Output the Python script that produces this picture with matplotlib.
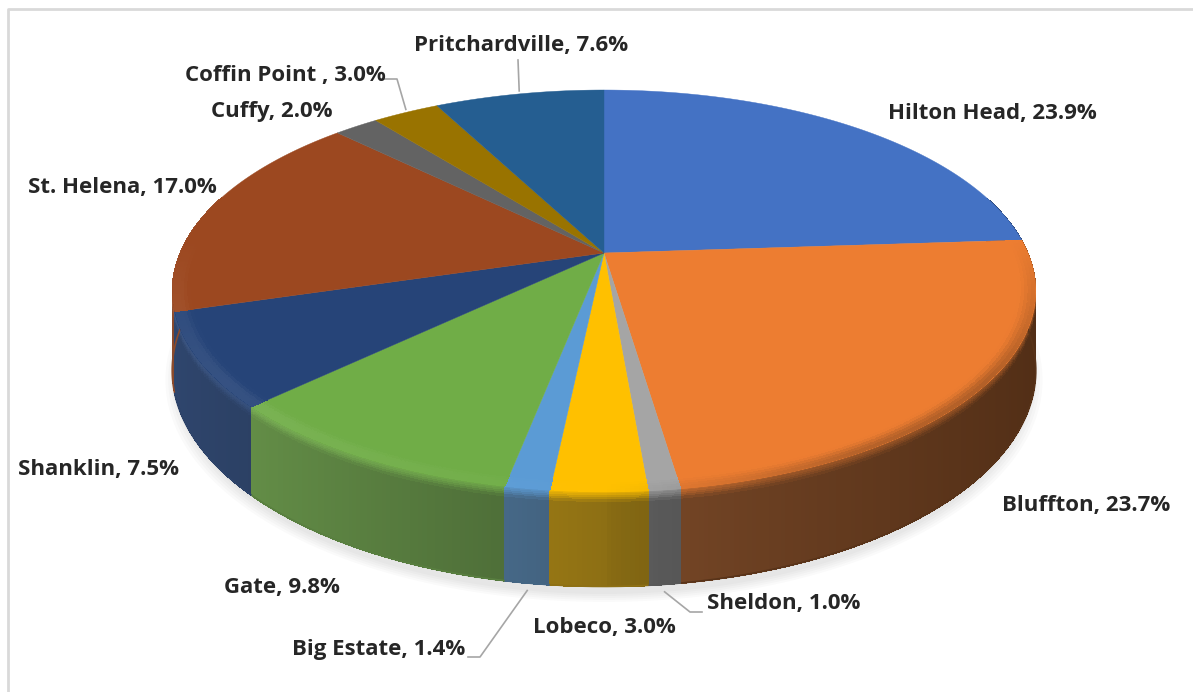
import numpy as np
import matplotlib
matplotlib.use("Agg")
import matplotlib.pyplot as plt
from matplotlib.collections import PolyCollection
from matplotlib.patches import Polygon
from matplotlib.colors import to_rgb

# share of each area (percent), clockwise from 12 o'clock
areas = ["Hilton Head", "Bluffton", "Sheldon", "Lobeco", "Big Estate", "Gate",
         "Shanklin", "St. Helena", "Cuffy", "Coffin Point ", "Pritchardville"]
shares = [23.9, 23.7, 1.0, 3.0, 1.4, 9.8, 7.5, 17.0, 2.0, 3.0, 7.6]
colors = ["#4472C4", "#ED7D31", "#A5A5A5", "#FFC000", "#5B9BD5", "#70AD47",
          "#264478", "#9C4820", "#636363", "#997300", "#255E91"]

# label centres (pixels) and, for the leader-line labels, the knee point
label_xy = {
    "Hilton Head": (992, 113), "Bluffton": (1086, 505), "Sheldon": (784, 604),
    "Lobeco": (604, 628), "Big Estate": (379, 650), "Gate": (282, 588),
    "Shanklin": (98, 470), "St. Helena": (122, 188), "Cuffy": (272, 112),
    "Coffin Point ": (285, 75), "Pritchardville": (521, 45),
}
leaders = {
    "Pritchardville": [(518, 60)],
    "Coffin Point ": [(385, 79), (397, 79)],
    "Big Estate": [(468, 657), (480, 657)],
    "Sheldon": [(702, 612), (690, 612)],
}

W, H = 1193, 692
fig = plt.figure(figsize=(W / 100, H / 100), dpi=100)
ax = fig.add_axes([0, 0, 1, 1])
ax.set_xlim(0, W)
ax.set_ylim(H, 0)
ax.axis("off")

# perspective view of a flat disc
cx, cy = 604, 253
rx, ry, k = 424, 193.8, 0.189
depth = 95


def proj(t, r=1.0):
    u, v = r * np.cos(t), r * np.sin(t)
    w = 1 + k * v
    return cx + rx * u / w, cy - ry * v / w


def drop(t, r=1.0):
    return depth * (1 - k) / (1 + k * r * np.sin(t))


def side_color(base, t):
    c = np.cos(t)
    grey = base.mean()
    muted = 0.88 * base + 0.12 * grey
    if c < 0:
        f = 0.54 - 0.34 * c
    else:
        f = 0.54 - 0.18 * np.sqrt(c)
    return np.clip(muted * f + 0.04 * (1 - max(c, 0)), 0, 1)


def smooth(x):
    x = np.clip(x, 0, 1)
    return x * x * (3 - 2 * x)


edges = np.concatenate([[0], np.cumsum(shares)]) / sum(shares) * 360
t_edges = np.radians(90 - edges)

# soft shadow under the cake
for s in np.linspace(1.0, 1.025, 5):
    ts = np.linspace(0, 2 * np.pi, 300)
    xs, ys = proj(ts, s)
    xs = cx + (xs - cx) * 0.99
    ys = ys + drop(ts, s) + 7
    ax.add_patch(Polygon(np.column_stack([xs, ys]), closed=True,
                         facecolor="#808080", edgecolor="none", alpha=0.04, zorder=0))

# side wall in thin strips, with a bevel band under the top edge
rows = np.array([0, 0.02, 0.04, 0.06, 0.08, 0.11, 0.15, 1.0])
quads, fcs, order = [], [], []
for i in range(len(shares)):
    t0, t1 = t_edges[i], t_edges[i + 1]
    n = max(2, int(abs(t0 - t1) / np.radians(0.5)))
    ts = np.linspace(t0, t1, n + 1)
    base = np.array(to_rgb(colors[i]))
    for a, b in zip(ts[:-1], ts[1:]):
        m = 0.5 * (a + b)
        if np.sin(m) > 0.3:
            continue
        c = np.cos(m)
        side = side_color(base, m)
        edge = (0.8 * base + 0.2 * side + (1 - base) * 0.10 * max(-c, 0)
                + (side - base) * 0.4 * min(1, max(c, 0) * 3))
        xa, ya = proj(a)
        xb, yb = proj(b)
        da, db = drop(a), drop(b)
        for f0, f1 in zip(rows[:-1], rows[1:]):
            w = smooth(0.5 * (f0 + f1) / 0.13)
            col = (1 - w) * edge + w * side
            quads.append([(xa, ya + f0 * da), (xb, yb + f0 * db),
                          (xb, yb + f1 * db), (xa, ya + f1 * da)])
            fcs.append(np.clip(col, 0, 1))
            order.append(-np.sin(m))
idx = np.argsort(order, kind="stable")
ax.add_collection(PolyCollection([quads[j] for j in idx], facecolors=[fcs[j] for j in idx],
                                 edgecolors="none", antialiased=False, zorder=1))

# smooth lower outline of the wall
for i in range(len(shares)):
    ts = np.linspace(t_edges[i], t_edges[i + 1], 200)
    ts = ts[np.sin(ts) < 0.05]
    if len(ts) < 2:
        continue
    base = np.array(to_rgb(colors[i]))
    xs, ys = proj(ts)
    ax.plot(xs, ys + drop(ts) - 0.5, color=side_color(base, ts.mean()), lw=1.2,
            zorder=1.5, solid_capstyle="butt")

# top faces
for i in range(len(shares)):
    ts = np.linspace(t_edges[i], t_edges[i + 1], 200)
    xs, ys = proj(ts)
    pts = np.vstack([[cx, cy], np.column_stack([xs, ys])])
    ax.add_patch(Polygon(pts, closed=True, facecolor=colors[i], edgecolor=colors[i],
                         linewidth=0.3, zorder=2))

# rounded rim along the front of the top face
rings = np.linspace(0.96, 0.998, 6)
rq, rc = [], []
for i in range(len(shares)):
    t0, t1 = t_edges[i], t_edges[i + 1]
    n = max(2, int(abs(t0 - t1) / np.radians(0.5)))
    ts = np.linspace(t0, t1, n + 1)
    base = np.array(to_rgb(colors[i]))
    for a, b in zip(ts[:-1], ts[1:]):
        m = 0.5 * (a + b)
        vis = np.clip(-np.sin(m) * 1.5 + 0.1, 0, 1)
        if vis <= 0:
            continue
        c = np.cos(m)
        side = side_color(base, m)
        for j, (r0, r1) in enumerate(zip(rings[:-1], rings[1:])):
            s = (j + 0.5) / (len(rings) - 1)
            if c < 0:
                col = base + (1 - base) * 0.09 * (-c) * smooth(s * 1.6) * vis
            else:
                col = base + (side - base) * 0.4 * smooth(s) * min(1, c * 2) * vis
            xa0, ya0 = proj(a, r0)
            xb0, yb0 = proj(b, r0)
            xa1, ya1 = proj(a, r1)
            xb1, yb1 = proj(b, r1)
            rq.append([(xa0, ya0), (xb0, yb0), (xb1, yb1), (xa1, ya1)])
            rc.append(np.clip(col, 0, 1))
ax.add_collection(PolyCollection(rq, facecolors=rc, edgecolors="none",
                                 antialiased=False, zorder=3))

# labels
for i, name in enumerate(areas):
    x, y = label_xy[name]
    ax.text(x, y, f"{name}, {shares[i]:.1f}%", ha="center", va="center",
            fontsize=16, fontweight="bold", color="#262626",
            family=["Open Sans", "DejaVu Sans"], zorder=5)

# leader lines run from the label to the middle of the slice edge
for name, knee in leaders.items():
    i = areas.index(name)
    tm = np.radians(90 - 0.5 * (edges[i] + edges[i + 1]))
    ex, ey = proj(tm)
    if np.sin(tm) < 0:
        ey = ey + drop(tm) + 7
    else:
        ey = ey - 3
    pts = list(knee) + [(ex, ey)]
    ax.plot([p[0] for p in pts], [p[1] for p in pts], color="#a6a6a6", lw=1.2, zorder=4)

# chart frame
ax.plot([8, 8, W], [H, 9, 9], color="#d9d9d9", lw=2, zorder=6)

fig.savefig("out.png", dpi=100)
